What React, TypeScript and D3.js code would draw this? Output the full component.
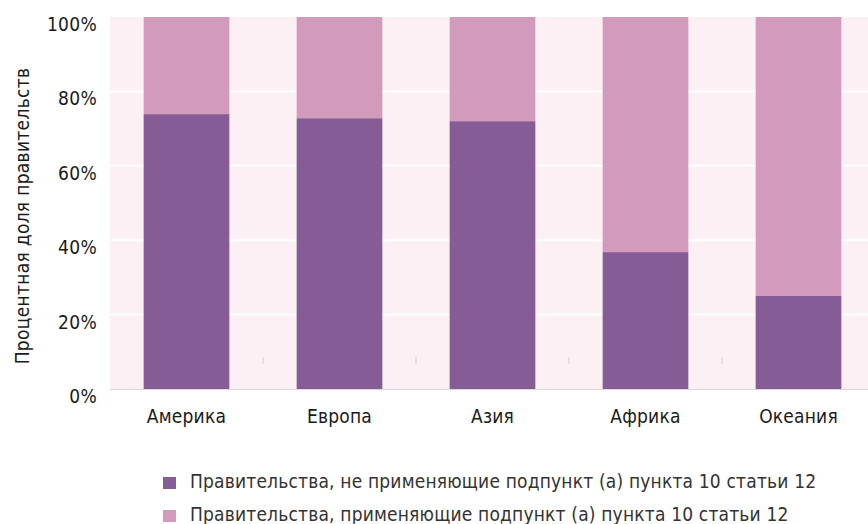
import { useEffect, useRef } from 'react'
import * as d3 from 'd3'

const categories = ['Америка', 'Европа', 'Азия', 'Африка', 'Океания']
const notApplying = [0.739, 0.728, 0.72, 0.368, 0.25]
const applying = notApplying.map((v) => 1 - v)
const yTicks = [0, 0.2, 0.4, 0.6, 0.8, 1]
const seriesNames = [
  'Правительства, не применяющие подпункт (а) пункта 10 статьи 12',
  'Правительства, применяющие подпункт (а) пункта 10 статьи 12',
]
const colors = ['#865c96', '#d39bbb']

const FONT = '"DejaVu Sans Condensed", "DejaVu Sans", sans-serif'

const App = () => {
  const svgRef = useRef<SVGSVGElement>(null)

  useEffect(() => {
    if (!svgRef.current) return
    const svg = d3.select(svgRef.current)
    svg.selectAll('*').remove()

    const left = 110
    const top = 17
    const bottom = 389
    const right = 875

    const x = d3.scaleBand().domain(categories).range([left, right]).paddingInner(0.44).paddingOuter(0.22)
    const y = d3.scaleLinear().domain([0, 1]).range([bottom, top])

    // plot background
    svg.append('rect')
      .attr('x', left).attr('y', top)
      .attr('width', right - left).attr('height', bottom - top)
      .attr('fill', '#fcf0f5')

    // gridlines
    svg.append('g')
      .selectAll('line')
      .data(yTicks.slice(1, -1))
      .join('line')
      .attr('x1', left).attr('x2', right)
      .attr('y1', (d) => y(d)).attr('y2', (d) => y(d))
      .attr('stroke', '#ffffff')
      .attr('stroke-width', 2)

    // bars
    const stackData = categories.map((c, i) => ({ cat: c, a: notApplying[i], b: applying[i] }))
    const g = svg.append('g')
    g.selectAll('rect.a')
      .data(stackData)
      .join('rect')
      .attr('class', 'a')
      .attr('x', (d) => x(d.cat)!)
      .attr('width', x.bandwidth())
      .attr('y', (d) => y(d.a))
      .attr('height', (d) => y(0) - y(d.a))
      .attr('fill', colors[0])
    g.selectAll('rect.b')
      .data(stackData)
      .join('rect')
      .attr('class', 'b')
      .attr('x', (d) => x(d.cat)!)
      .attr('width', x.bandwidth())
      .attr('y', (d) => y(d.a + d.b))
      .attr('height', (d) => y(d.a) - y(d.a + d.b))
      .attr('fill', colors[1])

    // small separators between categories
    const step = x.step()
    svg.append('g')
      .selectAll('line')
      .data(categories.slice(1))
      .join('line')
      .attr('x1', (d) => x(d)! - (step - x.bandwidth()) / 2)
      .attr('x2', (d) => x(d)! - (step - x.bandwidth()) / 2)
      .attr('y1', 357).attr('y2', 364)
      .attr('stroke', '#d0d0d0')
      .attr('stroke-width', 1)

    // x axis line
    svg.append('line')
      .attr('x1', left).attr('x2', right)
      .attr('y1', bottom + 0.5).attr('y2', bottom + 0.5)
      .attr('stroke', '#d9d9d9')
      .attr('stroke-width', 1)

    const textStyle = (sel: any, size: number, spacing = 0) =>
      sel.style('font-family', FONT)
        .style('font-stretch', 'condensed')
        .style('font-size', `${size}px`)
        .style('letter-spacing', `${spacing}px`)
        .style('fill', '#1a1a1a')

    // y tick labels
    svg.append('g')
      .selectAll('text')
      .data(yTicks)
      .join('text')
      .attr('x', 97)
      .attr('y', (d) => y(d) + 14)
      .attr('text-anchor', 'end')
      .call(textStyle, 19, 0.3)
      .text((d) => d3.format('.0%')(d))

    // x labels
    svg.append('g')
      .selectAll('text')
      .data(categories)
      .join('text')
      .attr('x', (d) => x(d)! + x.bandwidth() / 2)
      .attr('y', 423)
      .attr('text-anchor', 'middle')
      .call(textStyle, 19, 0.2)
      .text((d) => d)

    // y axis title
    svg.append('text')
      .attr('transform', 'translate(29,216) rotate(-90)')
      .attr('text-anchor', 'middle')
      .call(textStyle, 19, 0.3)
      .text('Процентная доля правительств')

    // legend
    const legend = svg.append('g')
      .selectAll('g')
      .data(seriesNames)
      .join('g')
      .attr('transform', (_, i) => `translate(163,${477 + i * 33})`)
    legend.append('rect')
      .attr('width', 13).attr('height', 12)
      .attr('fill', (_, i) => colors[i])
    legend.append('text')
      .attr('x', 27)
      .attr('y', 11)
      .call(textStyle, 19, 0.18)
      .style('fill', '#333333')
      .text((d) => d)
  }, [])

  return <svg ref={svgRef} width={868} height={524} style={{ display: 'block', position: 'absolute', left: 0, top: 0 }} />
}

export default App
